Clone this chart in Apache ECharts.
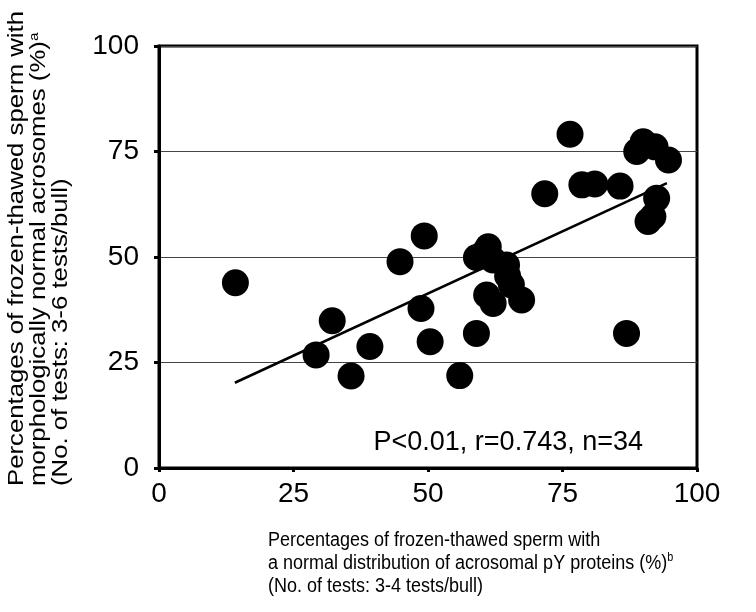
<!DOCTYPE html>
<html>
<head>
<meta charset="utf-8">
<script src="https://cdn.jsdelivr.net/npm/echarts@6/dist/echarts.min.js"></script>
<style>
  html, body { margin: 0; padding: 0; background: #fff; }
  #chart { width: 756px; height: 612px; }
</style>
</head>
<body>
<div id="chart"></div>
<script>
// values (% normal pY distribution vs % normal acrosomes)
const xValues = [14.2, 29.2, 32.2, 35.7, 39.2, 44.8, 48.7, 49.3, 50.4, 55.9,
                 59.0, 59.0, 60.3, 61.2, 62.1, 64.6, 60.9, 62.1, 65.5, 67.4,
                 64.8, 71.7, 76.4, 78.6, 81.0, 85.7, 86.9, 88.8, 90.0, 92.2,
                 94.7, 92.5, 90.9, 91.8];
const yValues = [43.9, 26.8, 34.9, 21.8, 28.8, 48.9, 37.8, 55.0, 29.9, 21.9,
                 31.9, 49.9, 50.8, 52.4, 49.3, 48.1, 41.0, 39.0, 43.4, 39.8,
                 45.5, 65.0, 79.1, 67.1, 67.3, 66.8, 31.9, 75.0, 77.3, 76.1,
                 73.0, 63.9, 58.4, 59.6];
// regression line end points
const fitX = [14.1, 94.4];
const fitY = [20.2, 67.5];
const axisTicks = [0, 25, 50, 75, 100];

const font = '"Liberation Sans", Arial, sans-serif';

const chart = echarts.init(document.getElementById('chart'));

const points = xValues.map((x, i) => [x, yValues[i]]);
const fitLine = fitX.map((x, i) => [x, fitY[i]]);

const option = {
  animation: false,
  grid: {
    left: 159, right: 59, top: 46, bottom: 144,
    show: true, borderColor: '#000', borderWidth: 3
  },
  xAxis: {
    type: 'value',
    min: axisTicks[0], max: axisTicks[axisTicks.length - 1], interval: 25,
    axisLine: { lineStyle: { color: '#000', width: 3 } },
    axisTick: { show: true, length: 4, lineStyle: { color: '#000', width: 3 } },
    axisLabel: { color: '#000', fontSize: 28, fontFamily: font, margin: 12 },
    splitLine: { show: false }
  },
  yAxis: {
    type: 'value',
    min: axisTicks[0], max: axisTicks[axisTicks.length - 1], interval: 25,
    axisLine: { lineStyle: { color: '#000', width: 3 } },
    axisTick: { show: true, length: 5, lineStyle: { color: '#000', width: 3 } },
    axisLabel: { color: '#000', fontSize: 28, fontFamily: font, margin: 20 },
    splitLine: { show: true, lineStyle: { color: '#444', width: 1.2 } }
  },
  series: [
    {
      type: 'line',
      data: fitLine,
      symbol: 'none',
      lineStyle: { color: '#000', width: 2.5 },
      z: 1
    },
    {
      type: 'scatter',
      data: points,
      symbol: 'circle',
      symbolSize: 27,
      itemStyle: { color: '#000', opacity: 1 },
      z: 2
    }
  ],
  graphic: [
    {
      type: 'text',
      x: 6, y: 486,
      rotation: Math.PI / 2,
      scaleX: 1.17,
      style: {
        text: 'Percentages of frozen-thawed sperm with\nmorphologically normal acrosomes (%){sup|a}\n(No. of tests: 3-6 tests/bull)',
        font: '22px ' + font,
        fill: '#000',
        lineHeight: 22,
        align: 'left',
        verticalAlign: 'top',
        rich: { sup: { fontSize: 13, fontFamily: font, verticalAlign: 'top', fill: '#000' } }
      }
    },
    {
      type: 'text',
      x: 268, y: 529,
      scaleX: 0.9,
      style: {
        text: 'Percentages of frozen-thawed sperm with\na normal distribution of acrosomal pY proteins (%){sup|b}\n(No. of tests: 3-4 tests/bull)',
        font: '20px ' + font,
        fill: '#000',
        lineHeight: 23,
        align: 'left',
        verticalAlign: 'top',
        rich: { sup: { fontSize: 12, fontFamily: font, verticalAlign: 'top', fill: '#000' } }
      }
    },
    {
      type: 'text',
      x: 643, y: 443,
      style: {
        text: 'P<0.01, r=0.743, n=34',
        font: '27px ' + font,
        fill: '#000',
        align: 'right',
        verticalAlign: 'middle'
      }
    }
  ]
};

chart.setOption(option);
</script>
</body>
</html>
